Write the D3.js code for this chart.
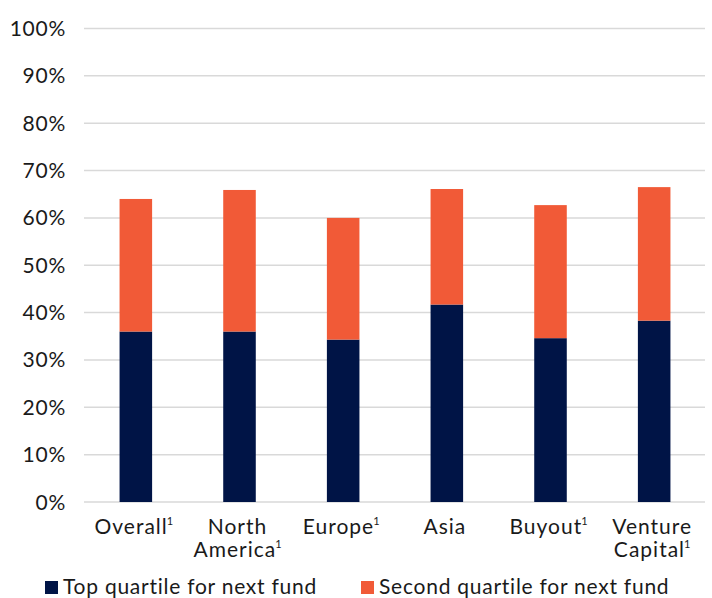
<!DOCTYPE html>
<html><head><meta charset="utf-8">
<script src="https://cdn.jsdelivr.net/npm/d3@7"></script>
<style>body{margin:0;background:#fff;} text{font-family:Lato, "Open Sans", sans-serif; letter-spacing:0.75px;}</style>
</head><body>
<svg id="chart" width="712" height="598"></svg>
<script>
const categories = [["Overall"], ["North", "America"], ["Europe"], ["Asia"], ["Buyout"], ["Venture", "Capital"]];
const footnote = [true, true, true, false, true, true];
const topQuartile = [36.0, 36.0, 34.3, 41.7, 34.6, 38.3];
const secondQuartile = [28.0, 29.9, 25.7, 24.4, 28.1, 28.2];
const yTicks = [0, 10, 20, 30, 40, 50, 60, 70, 80, 90, 100];
const seriesNames = ["Top quartile for next fund", "Second quartile for next fund"];
const colors = ["#001446", "#f15a37"];

const svg = d3.select("#chart");
const x = d3.scaleBand().domain(d3.range(categories.length)).range([84, 706]).paddingInner(0.686).paddingOuter(0.343);
const y = d3.scaleLinear().domain([0, 100]).range([502, 28.5]);

// gridlines
svg.append("g").selectAll("line").data(yTicks).join("line")
  .attr("x1", 84).attr("x2", 705).attr("y1", d => y(d)).attr("y2", d => y(d))
  .attr("stroke", "#d9d9d9").attr("stroke-width", 1.5);

// y labels
svg.append("g").selectAll("text").data(yTicks).join("text")
  .attr("x", 66).attr("y", d => y(d) + 7.5).attr("text-anchor", "end")
  .attr("font-size", 21).attr("fill", "#1a1a1a").text(d => d + "%");

// stacked data
const rows = categories.map((c, i) => ({i, a: topQuartile[i], b: secondQuartile[i]}));
const stack = d3.stack().keys(["a", "b"])(rows);
svg.append("g").selectAll("g").data(stack).join("g")
  .attr("fill", (d, k) => colors[k])
  .selectAll("rect").data(d => d).join("rect")
  .attr("x", d => x(d.data.i)).attr("width", x.bandwidth())
  .attr("y", d => y(d[1])).attr("height", d => y(d[0]) - y(d[1]));

// x labels
const xl = svg.append("g").selectAll("text").data(categories).join("text")
  .attr("text-anchor", "middle").attr("font-size", 21).attr("fill", "#1a1a1a")
  .style("letter-spacing", "1px")
  .attr("transform", (d, i) => `translate(${x(i) + x.bandwidth() / 2 - 2},534)`);
xl.each(function(lines, i) {
  const t = d3.select(this);
  lines.forEach((ln, j) => {
    t.append("tspan").attr("x", 0).attr("y", j * 23).text(ln);
    if (j === lines.length - 1 && footnote[i]) {
      t.append("tspan").attr("font-size", 11).attr("dx", -1).attr("dy", -9)
        .style("letter-spacing", "0px").text("1");
      t.append("tspan").attr("dy", 9).style("letter-spacing", "0px").text("");
    }
  });
});

// legend
const legendX = [45, 361];
const lg = svg.append("g").selectAll("g").data(seriesNames).join("g")
  .attr("transform", (d, i) => `translate(${legendX[i]},0)`);
lg.append("rect").attr("x", 0).attr("y", 581).attr("width", 13).attr("height", 13).attr("fill", (d, i) => colors[i]);
lg.append("text").attr("x", 18).attr("y", 594).attr("font-size", 21).attr("fill", "#1a1a1a").text(d => d);
</script>
</body></html>
